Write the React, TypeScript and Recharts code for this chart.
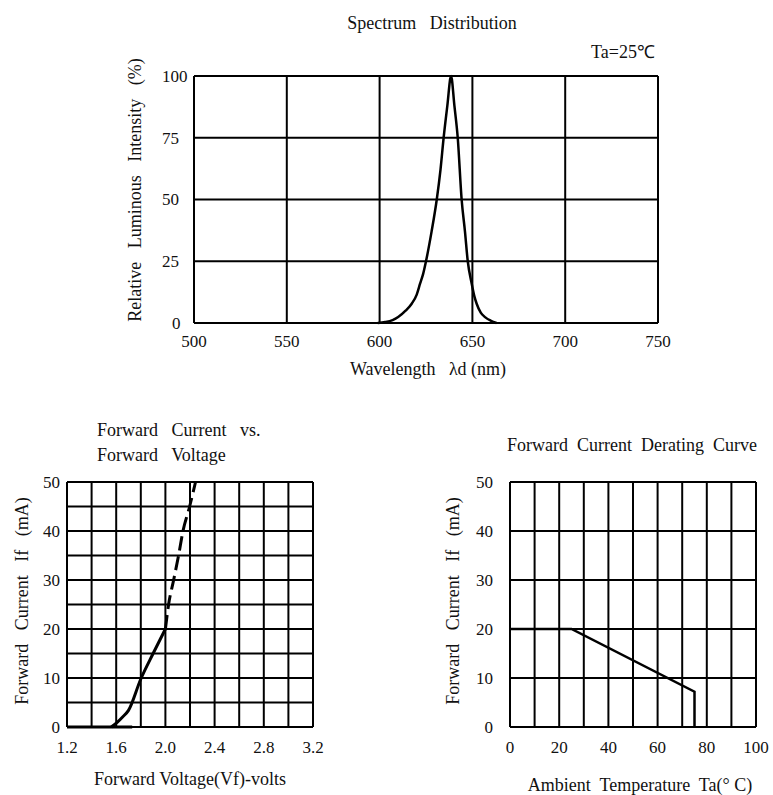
import React from 'react';
import { LineChart, Line, XAxis, YAxis, CartesianGrid } from 'recharts';

const FONT = "'Liberation Serif', 'Times New Roman', Times, serif";
const INK = '#111';

// ---- Spectrum distribution ----
const spectrumWavelength = [599, 603, 607, 610, 614, 617.3, 620, 621.8, 623.5, 625, 628, 630.8, 632.8, 634.5, 636.5, 638.5, 640.3, 642.1, 644.2, 646, 647.5, 649.6, 651, 652.3, 654.5, 656.8, 660, 663];
const spectrumIntensity = [0, 0.4, 1.2, 2.4, 5, 7.8, 11.5, 15.9, 20, 25, 37, 50, 62, 75, 88, 100, 88, 75, 50, 37, 25, 16, 11, 7.8, 4.2, 2.4, 0.9, 0];
const spectrumTicksX = [500, 550, 600, 650, 700, 750];
const spectrumTicksY = [0, 25, 50, 75, 100];

// ---- Forward current vs forward voltage ----
const fvFlatVoltage = [1.2, 1.73];
const fvFlatCurrent = [0, 0];
const fvSolidVoltage = [1.56, 1.61, 1.65, 1.7, 1.8, 1.9, 2.0];
const fvSolidCurrent = [0, 1, 2, 3.4, 9.8, 15, 20];
const fvDashedVoltage = [2.0, 2.026, 2.067, 2.107, 2.143, 2.197, 2.245];
const fvDashedCurrent = [20, 25, 30, 35, 40, 45, 50];
const fvTicksX = [1.2, 1.4, 1.6, 1.8, 2.0, 2.2, 2.4, 2.6, 2.8, 3.0, 3.2];
const fvLabelsX = [1.2, 1.6, 2.0, 2.4, 2.8, 3.2];
const fvTicksY = [0, 5, 10, 15, 20, 25, 30, 35, 40, 45, 50];
const fvLabelsY = [0, 10, 20, 30, 40, 50];

// ---- Derating curve ----
const deratingTemp = [0, 25, 75, 75];
const deratingCurrent = [20, 20, 7.2, 0];
const deratingTicksX = [0, 10, 20, 30, 40, 50, 60, 70, 80, 90, 100];
const deratingLabelsX = [0, 20, 40, 60, 80, 100];
const deratingTicksY = [0, 10, 20, 30, 40, 50];

const zip = (xs: number[], ys: number[]) => xs.map((x, i) => ({ x, y: ys[i] }));

const has = (list: number[], v: number) => list.some((l) => Math.abs(l - v) < 1e-6);

const W = 773;
const H = 795;
const YW = 40;
const XH = 30;

const TickText = (props: any) => {
  const { x, y, label, anchor } = props;
  if (label === null) return <g />;
  return (
    <text x={x} y={y} dy="0.35em" textAnchor={anchor} fontFamily={FONT} fontSize={17} fill={INK}>
      {label}
    </text>
  );
};

const gridProps = { stroke: '#000', strokeWidth: 2 };

const Label = ({ x, y, children, anchor = 'middle', rotate = false, size = 18 }: any) => (
  <text
    transform={rotate ? `translate(${x},${y}) rotate(-90)` : undefined}
    x={rotate ? 0 : x}
    y={rotate ? 0 : y}
    dy="0.35em"
    textAnchor={anchor}
    fontFamily={FONT}
    fontSize={size}
    fill={INK}
    xmlSpace="preserve"
    style={{ whiteSpace: 'pre' }}
  >
    {children}
  </text>
);

const SpecXTick = (p: any) => <TickText x={p.x} y={341} label={String(p.payload.value)} anchor="middle" />;
const SpecYTick = (p: any) => (
  <TickText x={p.payload.value === 0 ? 172 : 162} y={p.y} label={String(p.payload.value)} anchor="start" />
);
const FvXTick = (p: any) => (
  <TickText x={p.x} y={747} label={has(fvLabelsX, p.payload.value) ? Number(p.payload.value).toFixed(1) : null} anchor="middle" />
);
const FvYTick = (p: any) => (
  <TickText x={60} y={p.y} label={has(fvLabelsY, p.payload.value) ? String(p.payload.value) : null} anchor="end" />
);
const DrXTick = (p: any) => (
  <TickText x={p.x} y={747} label={has(deratingLabelsX, p.payload.value) ? String(p.payload.value) : null} anchor="middle" />
);
const DrYTick = (p: any) => <TickText x={493} y={p.y} label={String(p.payload.value)} anchor="end" />;

export default function App() {
  const spectrum = zip(spectrumWavelength, spectrumIntensity);
  const fvFlat = zip(fvFlatVoltage, fvFlatCurrent);
  const fvSolid = zip(fvSolidVoltage, fvSolidCurrent);
  const fvDashed = zip(fvDashedVoltage, fvDashedCurrent);
  const derating = zip(deratingTemp, deratingCurrent);

  const abs: React.CSSProperties = { position: 'absolute', left: 0, top: 0 };

  return (
    <div style={{ position: 'absolute', left: 0, top: 0, width: W, height: H, background: '#fff' }}>
      <div style={abs}>
        <LineChart width={W} height={H} margin={{ top: 76, left: 194 - YW, right: 115, bottom: 472 - XH }}>
          <CartesianGrid {...gridProps} />
          <XAxis type="number" dataKey="x" domain={[500, 750]} ticks={spectrumTicksX} interval={0} height={XH}
            axisLine={false} tickLine={false} tick={<SpecXTick />} />
          <YAxis type="number" dataKey="y" domain={[0, 100]} ticks={spectrumTicksY} interval={0} width={YW}
            axisLine={false} tickLine={false} tick={<SpecYTick />} />
          <Line data={spectrum} dataKey="y" type="monotone" stroke="#000" strokeWidth={2.5} dot={false} activeDot={false} isAnimationActive={false} />
        </LineChart>
      </div>

      <div style={abs}>
        <LineChart width={W} height={H} margin={{ top: 482, left: 67 - YW, right: 460, bottom: 68 - XH }}>
          <CartesianGrid {...gridProps} />
          <XAxis type="number" dataKey="x" domain={[1.2, 3.2]} ticks={fvTicksX} interval={0} height={XH}
            axisLine={false} tickLine={false} tick={<FvXTick />} />
          <YAxis type="number" dataKey="y" domain={[0, 50]} ticks={fvTicksY} interval={0} width={YW}
            axisLine={false} tickLine={false} tick={<FvYTick />} />
          <Line data={fvFlat} dataKey="y" type="linear" stroke="#000" strokeWidth={3} dot={false} activeDot={false} isAnimationActive={false} />
          <Line data={fvSolid} dataKey="y" type="monotone" stroke="#000" strokeWidth={3} dot={false} activeDot={false} isAnimationActive={false} />
          <Line data={fvDashed} dataKey="y" type="monotone" stroke="#000" strokeWidth={3} strokeDasharray="14 6" dot={false} activeDot={false} isAnimationActive={false} />
        </LineChart>
      </div>

      <div style={abs}>
        <LineChart width={W} height={H} margin={{ top: 482, left: 510 - YW, right: 17, bottom: 68 - XH }}>
          <CartesianGrid {...gridProps} />
          <XAxis type="number" dataKey="x" domain={[0, 100]} ticks={deratingTicksX} interval={0} height={XH}
            axisLine={false} tickLine={false} tick={<DrXTick />} />
          <YAxis type="number" dataKey="y" domain={[0, 50]} ticks={deratingTicksY} interval={0} width={YW}
            axisLine={false} tickLine={false} tick={<DrYTick />} />
          <Line data={derating} dataKey="y" type="linear" stroke="#000" strokeWidth={2.5} dot={false} activeDot={false} isAnimationActive={false} />
        </LineChart>
      </div>

      <svg width={W} height={H} style={{ ...abs, pointerEvents: 'none' }}>
        <Label x={432} y={23}>{'Spectrum   Distribution'}</Label>
        <Label x={655} y={52} anchor="end">{'Ta=25℃'}</Label>
        <Label x={135} y={190} rotate>{'Relative   Luminous   Intensity   (%)'}</Label>
        <Label x={428} y={369}>{'Wavelength   λd (nm)'}</Label>

        <Label x={97} y={430} anchor="start">{'Forward   Current   vs.'}</Label>
        <Label x={97} y={455} anchor="start">{'Forward   Voltage'}</Label>
        <Label x={22} y={601} rotate>{'Forward   Current   If   (mA)'}</Label>
        <Label x={190} y={779}>{'Forward Voltage(Vf)-volts'}</Label>

        <Label x={632} y={445}>{'Forward  Current  Derating  Curve'}</Label>
        <Label x={453} y={601} rotate>{'Forward   Current   If   (mA)'}</Label>
        <Label x={640} y={785}>{'Ambient  Temperature  Ta(° C)'}</Label>
      </svg>
    </div>
  );
}
